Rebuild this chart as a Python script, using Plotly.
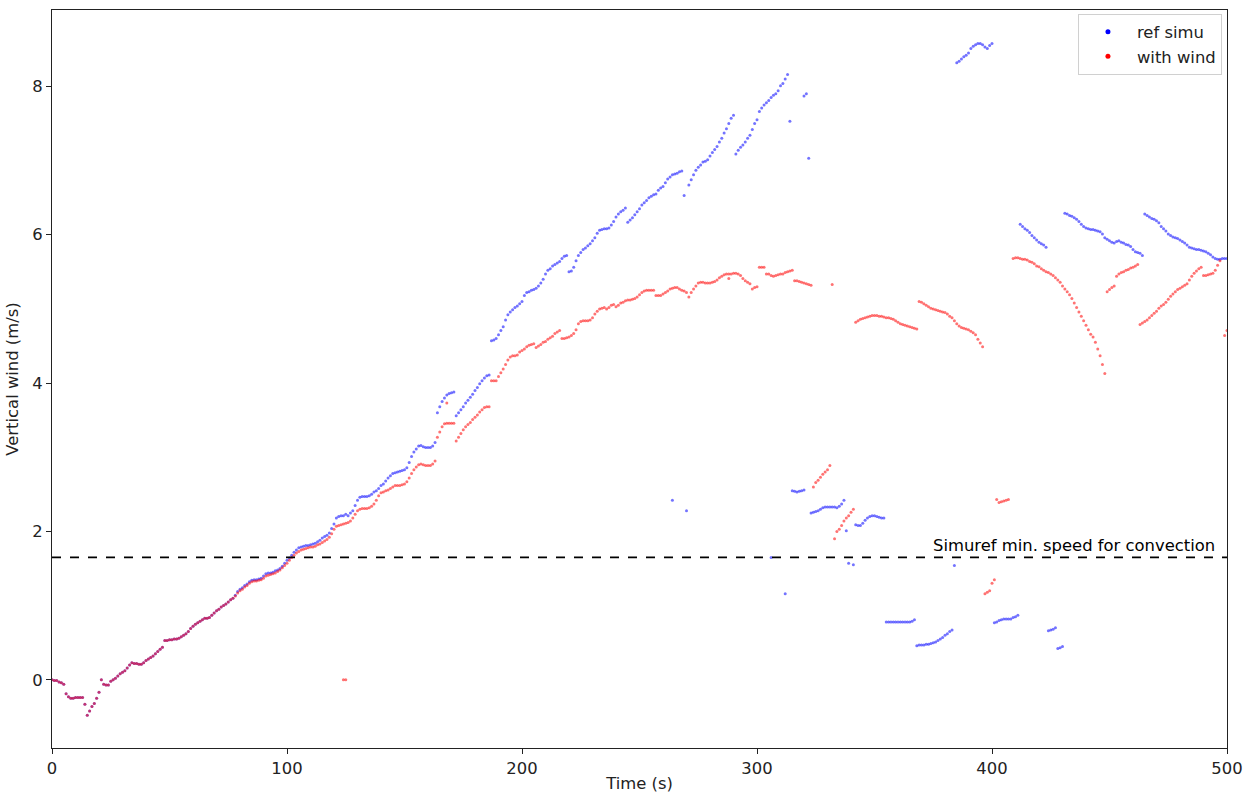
import plotly.graph_objects as go

# ---------------- data ----------------
# "ref simu" series, 1 s sampling, each segment = start time + values
ref_rise_start = 0
ref_rise = [
    0.00, -0.01, -0.01, -0.03, -0.04, -0.06, -0.19, -0.23, -0.25, -0.25,
    -0.24, -0.24, -0.24, -0.24, -0.33, -0.48, -0.42, -0.36, -0.32, -0.25,
    -0.17, 0.00, -0.06, -0.07, -0.07, -0.02, 0.00, 0.02, 0.05, 0.08,
    0.10, 0.12, 0.16, 0.20, 0.23, 0.22, 0.22, 0.21, 0.21, 0.23,
    0.26, 0.28, 0.30, 0.32, 0.35, 0.38, 0.41, 0.44, 0.53, 0.53,
    0.54, 0.54, 0.55, 0.55, 0.56, 0.58, 0.60, 0.62, 0.65, 0.69,
    0.72, 0.75, 0.77, 0.79, 0.81, 0.83, 0.83, 0.84, 0.87, 0.90,
    0.93, 0.95, 0.98, 1.00, 1.02, 1.05, 1.08, 1.10, 1.14, 1.19,
    1.22, 1.24, 1.27, 1.29, 1.32, 1.34, 1.35, 1.35, 1.36, 1.37,
    1.40, 1.43, 1.44, 1.44, 1.45, 1.47, 1.48, 1.50, 1.53, 1.57,
    1.61, 1.64, 1.68, 1.72, 1.75, 1.78, 1.79, 1.80, 1.81, 1.81,
    1.82, 1.83, 1.84, 1.86, 1.88, 1.91, 1.93, 1.95, 1.98, 2.04,
    2.10, 2.18, 2.20, 2.21, 2.21, 2.23, 2.21, 2.25, 2.28, 2.35,
    2.42, 2.46, 2.47, 2.47, 2.47, 2.48, 2.50, 2.53, 2.55, 2.58,
    2.62, 2.64, 2.68, 2.72, 2.75, 2.78, 2.79, 2.80, 2.81, 2.82,
    2.83, 2.86, 2.93, 3.01, 3.07, 3.11, 3.15, 3.16, 3.14, 3.13,
    3.13, 3.13, 3.15, 3.20,
]
ref_b_start = 164
ref_b = [3.60, 3.68, 3.75, 3.80, 3.84, 3.86, 3.87, 3.88]
ref_c_start = 172
ref_c = [3.56, 3.60, 3.64, 3.68, 3.73, 3.77, 3.81, 3.85, 3.90, 3.94,
         3.99, 4.03, 4.07, 4.10, 4.11]
ref_d_start = 187
ref_d = [4.57, 4.58, 4.60, 4.65, 4.71, 4.76, 4.85, 4.92, 4.96, 4.99,
         5.02, 5.04, 5.07, 5.10, 5.18, 5.22, 5.23, 5.25, 5.26, 5.28,
         5.31, 5.35, 5.40, 5.47, 5.52, 5.54, 5.58, 5.60, 5.62, 5.64,
         5.68, 5.71, 5.72]
ref_e_start = 220
ref_e = [5.50, 5.51, 5.56, 5.65, 5.72, 5.76, 5.80, 5.82, 5.85, 5.88,
         5.92, 5.96, 6.02, 6.06, 6.07, 6.08, 6.08, 6.09, 6.13, 6.18,
         6.24, 6.28, 6.31, 6.33, 6.36, 6.17, 6.20, 6.23, 6.27, 6.31,
         6.35, 6.40, 6.43, 6.46, 6.50, 6.52, 6.54, 6.55, 6.60, 6.63,
         6.65, 6.70, 6.75, 6.78, 6.81, 6.82, 6.83, 6.85, 6.86]
ref_f_start = 271
ref_f = [6.67, 6.74, 6.81, 6.87, 6.91, 6.94, 6.98, 6.99, 7.01, 7.06,
         7.11, 7.15, 7.19, 7.25, 7.30, 7.37, 7.43, 7.50, 7.57, 7.61]
ref_g_start = 291
ref_g = [7.09, 7.14, 7.18, 7.21, 7.25, 7.30, 7.34, 7.42, 7.50, 7.55,
         7.66, 7.71, 7.75, 7.78, 7.81, 7.85, 7.88, 7.90, 7.94, 8.01,
         8.04, 8.10, 8.16]
ref_h_start = 315
ref_h = [2.55, 2.54, 2.53, 2.54, 2.55, 2.56]
ref_i_start = 323
ref_i = [2.25, 2.26, 2.27, 2.28, 2.30, 2.32, 2.33, 2.33, 2.33, 2.33,
         2.33, 2.32, 2.34, 2.37, 2.42]
ref_j_start = 342
ref_j = [2.09, 2.08, 2.08, 2.11, 2.15, 2.18, 2.20, 2.21, 2.21, 2.20,
         2.19, 2.18, 2.18]
ref_k_start = 355
ref_k = [0.78, 0.78, 0.78, 0.78, 0.78, 0.78, 0.78, 0.78, 0.78, 0.78,
         0.78, 0.79, 0.81]
ref_l_start = 368
ref_l = [0.46, 0.47, 0.47, 0.47, 0.48, 0.48, 0.49, 0.50, 0.51, 0.53,
         0.55, 0.57, 0.60, 0.62, 0.65, 0.67]
ref_m_start = 385
ref_m = [8.32, 8.34, 8.37, 8.40, 8.42, 8.45, 8.51, 8.54, 8.56, 8.58,
         8.58, 8.56, 8.53, 8.51, 8.55, 8.58]
ref_n_start = 401
ref_n = [0.77, 0.78, 0.80, 0.81, 0.82, 0.82, 0.82, 0.82, 0.84, 0.85, 0.87]
ref_o_start = 412
ref_o = [6.14, 6.11, 6.08, 6.06, 6.03, 5.99, 5.96, 5.93, 5.90, 5.88,
         5.86, 5.83]
ref_p_start = 424
ref_p = [0.66, 0.67, 0.68, 0.70]
ref_q_start = 428
ref_q = [0.42, 0.43, 0.45]
ref_r_start = 431
ref_r = [6.29, 6.28, 6.26, 6.25, 6.23, 6.21, 6.18, 6.14, 6.11, 6.09,
         6.08, 6.07, 6.07, 6.06, 6.05, 6.04, 6.01, 5.96, 5.94, 5.92,
         5.90, 5.89, 5.91, 5.92, 5.90, 5.89, 5.87, 5.86, 5.84, 5.80,
         5.77, 5.76, 5.75, 5.72]
ref_s_start = 465
ref_s = [6.28, 6.26, 6.24, 6.22, 6.21, 6.19, 6.16, 6.11, 6.08, 6.05,
         6.01, 5.99, 5.97, 5.96, 5.95, 5.93, 5.91, 5.89, 5.86, 5.83,
         5.82, 5.81, 5.80, 5.80, 5.79, 5.78, 5.77, 5.75, 5.73, 5.70,
         5.68, 5.67, 5.67, 5.68, 5.68, 5.68]
ref_iso_t = [264, 269, 270, 306, 312, 314, 320, 321, 322, 338, 339, 341, 384]
ref_iso_v = [2.42, 6.53, 2.28, 1.65, 1.16, 7.53, 7.87, 7.90, 7.03, 2.01, 1.57, 1.55, 1.54]

# "with wind" series
wind_rise_start = 0
wind_rise = [
    0.00, -0.01, -0.01, -0.03, -0.04, -0.06, -0.19, -0.23, -0.25, -0.25,
    -0.24, -0.24, -0.24, -0.24, -0.33, -0.48, -0.42, -0.36, -0.32, -0.25,
    -0.17, 0.00, -0.06, -0.07, -0.07, -0.02, 0.00, 0.02, 0.05, 0.08,
    0.10, 0.12, 0.16, 0.20, 0.23, 0.22, 0.22, 0.21, 0.21, 0.23,
    0.26, 0.28, 0.30, 0.32, 0.35, 0.38, 0.41, 0.44, 0.53, 0.53,
    0.54, 0.54, 0.55, 0.55, 0.56, 0.58, 0.60, 0.62, 0.65, 0.69,
    0.72, 0.75, 0.77, 0.79, 0.81, 0.83, 0.83, 0.84, 0.87, 0.90,
    0.93, 0.95, 0.98, 1.00, 1.02, 1.05, 1.08, 1.10, 1.13, 1.17,
    1.20, 1.22, 1.25, 1.27, 1.30, 1.32, 1.33, 1.33, 1.34, 1.35,
    1.37, 1.40, 1.41, 1.42, 1.43, 1.44, 1.46, 1.48, 1.51, 1.54,
    1.57, 1.61, 1.65, 1.68, 1.71, 1.73, 1.75, 1.76, 1.77, 1.78,
    1.79, 1.79, 1.80, 1.82, 1.83, 1.85, 1.87, 1.89, 1.92, 1.97,
    2.03, 2.07, 2.08, 2.09, 2.10, 2.11, 2.12, 2.14, 2.18, 2.23,
    2.28, 2.30, 2.31, 2.31, 2.31, 2.32, 2.34, 2.37, 2.42, 2.48,
    2.52, 2.53, 2.55, 2.56, 2.58, 2.60, 2.62, 2.62, 2.62, 2.63,
    2.64, 2.67, 2.72, 2.78, 2.83, 2.87, 2.90, 2.91, 2.90, 2.89,
    2.89, 2.89, 2.91, 2.95,
]
wind_b_start = 164
wind_b = [3.27, 3.34, 3.41, 3.45, 3.46, 3.46, 3.46, 3.46]
wind_c_start = 172
wind_c = [3.22, 3.27, 3.32, 3.37, 3.41, 3.44, 3.47, 3.51, 3.54, 3.57,
          3.61, 3.64, 3.67, 3.68, 3.68]
wind_d_start = 187
wind_d = [4.03, 4.03, 4.03, 4.09, 4.14, 4.19, 4.25, 4.31, 4.35, 4.37,
          4.37, 4.38, 4.42, 4.44, 4.46, 4.49, 4.51, 4.52, 4.53, 4.48,
          4.50, 4.52, 4.55, 4.56, 4.59, 4.61, 4.63, 4.67, 4.69, 4.71]
wind_e_start = 217
wind_e = [4.60, 4.60, 4.61, 4.62, 4.64, 4.67, 4.72, 4.80, 4.83, 4.84,
          4.84, 4.84, 4.85, 4.88, 4.93, 4.97, 5.00, 5.01, 5.02, 5.00,
          5.02, 5.05, 5.06, 5.03, 5.05, 5.08, 5.09, 5.11, 5.12, 5.12,
          5.13, 5.14, 5.16, 5.19, 5.22, 5.24, 5.25, 5.25, 5.25, 5.25]
wind_f_start = 257
wind_f = [5.18, 5.18, 5.18, 5.20, 5.22, 5.24, 5.27, 5.28, 5.29, 5.29,
          5.27, 5.25, 5.24, 5.22]
wind_g_start = 271
wind_g = [5.16, 5.22, 5.27, 5.31, 5.35, 5.36, 5.36, 5.35, 5.35, 5.35,
          5.36, 5.37, 5.39, 5.42, 5.44, 5.46, 5.47, 5.47, 5.47, 5.48,
          5.48, 5.47, 5.45, 5.41, 5.38, 5.36, 5.34]
wind_h_start = 298
wind_h = [5.27, 5.29, 5.30]
wind_i_start = 301
wind_i = [5.56, 5.56, 5.56]
wind_j_start = 304
wind_j = [5.47, 5.47, 5.45, 5.44, 5.45, 5.46, 5.47, 5.47, 5.49, 5.50,
          5.51, 5.52]
wind_k_start = 316
wind_k = [5.38, 5.38, 5.37, 5.36, 5.35, 5.34, 5.33, 5.32]
wind_l_start = 324
wind_l = [2.60, 2.66, 2.69, 2.73, 2.77, 2.80, 2.83, 2.89]
wind_m_start = 333
wind_m = [1.90, 2.00, 2.03, 2.08, 2.14, 2.18, 2.21, 2.26, 2.30]
wind_n_start = 342
wind_n = [4.82, 4.84, 4.86, 4.87, 4.88, 4.89, 4.90, 4.91, 4.91, 4.91,
          4.90, 4.90, 4.89, 4.88, 4.88, 4.87, 4.86, 4.84, 4.82, 4.80,
          4.79, 4.78, 4.77, 4.76, 4.75, 4.74, 4.73]
wind_o_start = 369
wind_o = [5.10, 5.09, 5.07, 5.05, 5.03, 5.01, 5.00, 4.99, 4.98, 4.97,
          4.96, 4.95, 4.93, 4.90, 4.88, 4.84, 4.80, 4.77, 4.75, 4.74,
          4.73, 4.72, 4.70, 4.68, 4.65, 4.59, 4.54, 4.49]
wind_p_start = 397
wind_p = [1.16, 1.18, 1.20, 1.30, 1.35]
wind_q_start = 402
wind_q = [2.43, 2.39, 2.40, 2.41, 2.42, 2.43]
wind_r_start = 409
wind_r = [5.68, 5.69, 5.69, 5.68, 5.67, 5.67, 5.66, 5.64, 5.63, 5.61,
          5.58, 5.57, 5.54, 5.52, 5.50, 5.49, 5.47, 5.45, 5.42, 5.39,
          5.36, 5.31, 5.27, 5.23, 5.19, 5.14, 5.08, 5.02, 4.96, 4.90,
          4.84, 4.78, 4.72, 4.66, 4.62, 4.55, 4.46, 4.37, 4.25, 4.13]
wind_s_start = 449
wind_s = [5.23, 5.26, 5.29, 5.31, 5.44, 5.47, 5.49, 5.50, 5.52, 5.53,
          5.55, 5.56, 5.58, 5.60]
wind_t_start = 463
wind_t = [4.79, 4.81, 4.83, 4.85, 4.88, 4.91, 4.94, 4.97, 5.01, 5.04,
          5.06, 5.09, 5.13, 5.17, 5.20, 5.23, 5.26, 5.28, 5.30, 5.32,
          5.34, 5.39, 5.44, 5.48, 5.51, 5.54, 5.56]
wind_u_start = 490
wind_u = [5.45, 5.45, 5.46, 5.47, 5.48, 5.52, 5.59, 5.65]
wind_iso_t = [124, 125, 168, 288, 332, 499, 500]
wind_iso_v = [0.00, 0.00, 3.73, 5.41, 5.33, 4.64, 4.71]

threshold = 1.65
threshold_label = "Simuref min. speed for convection"
x_ticks = [0, 100, 200, 300, 400, 500]
y_ticks = [0, 2, 4, 6, 8]

ref_segments = [
    (ref_rise_start, ref_rise), (ref_b_start, ref_b), (ref_c_start, ref_c),
    (ref_d_start, ref_d), (ref_e_start, ref_e), (ref_f_start, ref_f),
    (ref_g_start, ref_g), (ref_h_start, ref_h), (ref_i_start, ref_i),
    (ref_j_start, ref_j), (ref_k_start, ref_k), (ref_l_start, ref_l),
    (ref_m_start, ref_m), (ref_n_start, ref_n), (ref_o_start, ref_o),
    (ref_p_start, ref_p), (ref_q_start, ref_q), (ref_r_start, ref_r),
    (ref_s_start, ref_s),
]
wind_segments = [
    (wind_rise_start, wind_rise), (wind_b_start, wind_b), (wind_c_start, wind_c),
    (wind_d_start, wind_d), (wind_e_start, wind_e), (wind_f_start, wind_f),
    (wind_g_start, wind_g), (wind_h_start, wind_h), (wind_i_start, wind_i),
    (wind_j_start, wind_j), (wind_k_start, wind_k), (wind_l_start, wind_l),
    (wind_m_start, wind_m), (wind_n_start, wind_n), (wind_o_start, wind_o),
    (wind_p_start, wind_p), (wind_q_start, wind_q), (wind_r_start, wind_r),
    (wind_s_start, wind_s), (wind_t_start, wind_t), (wind_u_start, wind_u),
]


def flatten(segments, iso_t, iso_v):
    ts, vs = [], []
    for start, vals in segments:
        for i, v in enumerate(vals):
            ts.append(start + i)
            vs.append(v)
    ts += iso_t
    vs += iso_v
    return ts, vs


ref_t, ref_v = flatten(ref_segments, ref_iso_t, ref_iso_v)
wind_t, wind_v = flatten(wind_segments, wind_iso_t, wind_iso_v)

FONT = "DejaVu Sans"
FS = 16.4

fig = go.Figure()
fig.add_trace(go.Scatter(
    x=ref_t, y=ref_v, mode="markers", showlegend=False,
    marker=dict(color="rgba(0,0,255,0.55)", size=3, line=dict(width=0)),
))
fig.add_trace(go.Scatter(
    x=wind_t, y=wind_v, mode="markers", showlegend=False,
    marker=dict(color="rgba(255,0,0,0.55)", size=3, line=dict(width=0)),
))
# legend entries
fig.add_trace(go.Scatter(x=[None], y=[None], mode="markers", name="ref simu",
                         marker=dict(color="blue", size=5)))
fig.add_trace(go.Scatter(x=[None], y=[None], mode="markers", name="with wind",
                         marker=dict(color="red", size=5)))

fig.add_shape(type="line", xref="paper", x0=0, x1=1, yref="y",
              y0=threshold, y1=threshold,
              line=dict(color="black", width=1.6, dash="dash"))
fig.add_annotation(xref="paper", x=1, yref="y", y=threshold,
                   text=threshold_label, showarrow=False,
                   xanchor="right", yanchor="bottom", xshift=-10, yshift=0,
                   font=dict(family=FONT, size=FS, color="black"))

axis_common = dict(
    showgrid=False, zeroline=False, showline=True, linecolor="#222222",
    linewidth=1, mirror=True, ticks="outside", ticklen=5, tickwidth=1,
    tickcolor="#222222", automargin=False,
    tickfont=dict(family=FONT, size=FS, color="#222222"),
)
fig.update_xaxes(range=[0, 500], tickvals=x_ticks,
                 title=dict(text="Time (s)", font=dict(family=FONT, size=FS, color="#222222"),
                            standoff=5),
                 **axis_common)
fig.update_yaxes(range=[-0.92, 9.03], tickvals=y_ticks,
                 title=dict(text="Vertical wind (m/s)",
                            font=dict(family=FONT, size=FS, color="#222222"),
                            standoff=9),
                 **axis_common)

fig.update_layout(
    width=1249, height=793,
    margin=dict(l=52, r=22, t=10, b=45, autoexpand=False),
    paper_bgcolor="white", plot_bgcolor="white",
    font=dict(family=FONT, size=FS, color="#222222"),
    legend=dict(x=0.9957, y=0.995, xanchor="right", yanchor="top",
                bgcolor="rgba(255,255,255,0.8)", bordercolor="#d0d0d0",
                borderwidth=1, font=dict(family=FONT, size=FS, color="#222222"),
                itemsizing="trace", itemwidth=48, tracegroupgap=0),
)

fig.write_html(
    "out.html",
    config={"displayModeBar": False},
    post_script="document.body.style.margin='0px';document.body.style.overflow='hidden';",
)
